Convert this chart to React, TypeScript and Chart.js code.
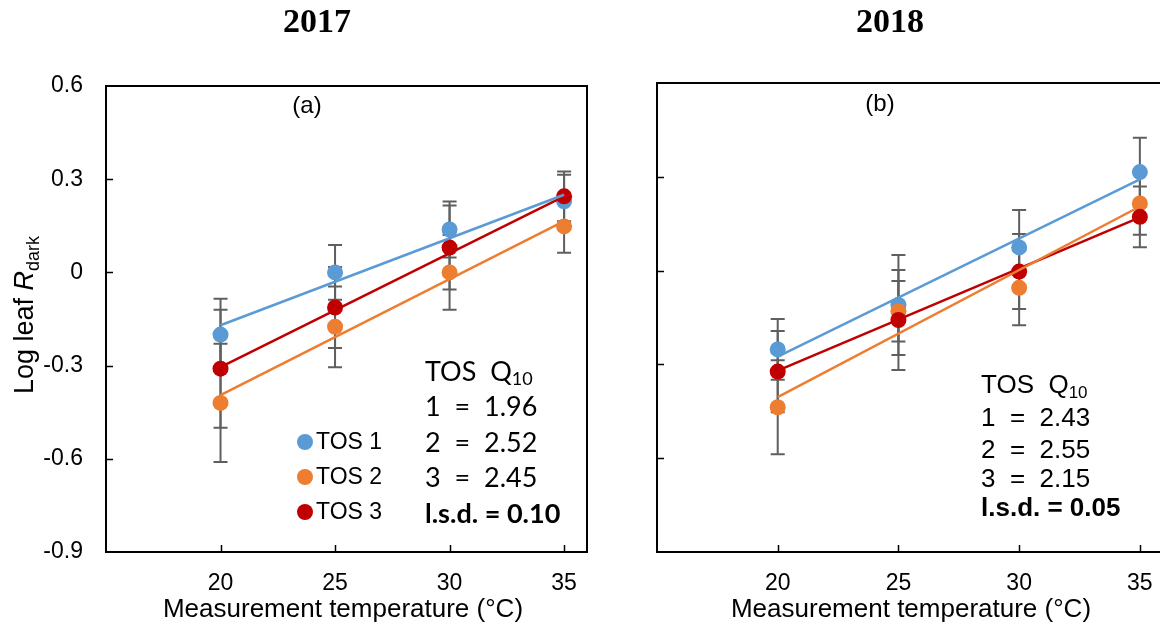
import React, { useEffect, useRef } from "react";
import { Chart, registerables } from "chart.js";
Chart.register(...registerables);

// ---------- data ----------
const temperatures = [20, 25, 30, 35];
const xTickValues = [20, 25, 30, 35];
const yTickValues = [-0.9, -0.6, -0.3, 0, 0.3, 0.6];
const seriesNames = ["TOS 1", "TOS 2", "TOS 3"];
const seriesColors = ["#5B9BD5", "#ED7D31", "#C00000"];
const trendX = [20, 35];

// 2017
const tos1_2017 = [-0.2, 0.0, 0.138, 0.229];
const tos2_2017 = [-0.42, -0.175, 0.0, 0.148];
const tos3_2017 = [-0.31, -0.113, 0.08, 0.245];
const err1_2017 = [0.115, 0.088, 0.09, 0.085];
const err2_2017 = [0.19, 0.13, 0.12, 0.085];
const err3_2017 = [0.19, 0.13, 0.135, 0.08];
const trend1_2017 = [-0.17, 0.25];
const trend2_2017 = [-0.395, 0.165];
const trend3_2017 = [-0.305, 0.245];
const q10Rows2017 = ["1  =  1.96", "2  =  2.52", "3  =  2.45"];
const lsd2017 = "l.s.d. = 0.10";

// 2018
const tos1_2018 = [-0.252, -0.11, 0.074, 0.315];
const tos2_2018 = [-0.437, -0.13, -0.055, 0.215];
const tos3_2018 = [-0.323, -0.158, -0.003, 0.172];
const err1_2018 = [0.097, 0.16, 0.12, 0.11];
const err2_2018 = [0.15, 0.097, 0.12, 0.1];
const err3_2018 = [0.13, 0.16, 0.12, 0.097];
const trend1_2018 = [-0.275, 0.292];
const trend2_2018 = [-0.405, 0.205];
const trend3_2018 = [-0.32, 0.17];
const q10Rows2018 = ["1  =  2.43", "2  =  2.55", "3  =  2.15"];
const lsd2018 = "l.s.d. = 0.05";

const SANS = "'Liberation Sans', Arial, sans-serif";
const SERIF = "'Liberation Serif', 'Times New Roman', serif";
const CALIBRI = "Lato, 'Liberation Sans', sans-serif";

type PanelCfg = {
  canvasLeft: number;
  canvasWidth: number;
  yAxisWidth: number;
  padTop: number;
  padRight: number;
  xAxisHeight: number;
  showYLabels: boolean;
  series: number[][];
  errors: number[][];
  trends: number[][];
  year: string;
  yearX: number;
  panelLabel: string;
  panelLabelX: number;
  panelLabelY: number;
  xTitleX: number;
  showYTitle: boolean;
  showLegend: boolean;
  annX: number;
  annRows: number[];
  annFont: string;
  annSize: number;
  q10: string[];
  lsd: string;
};

const panels: PanelCfg[] = [
  {
    canvasLeft: 0,
    canvasWidth: 620,
    yAxisWidth: 106,
    padTop: 86,
    padRight: 33,
    xAxisHeight: 82,
    showYLabels: true,
    series: [tos1_2017, tos2_2017, tos3_2017],
    errors: [err1_2017, err2_2017, err3_2017],
    trends: [trend1_2017, trend2_2017, trend3_2017],
    year: "2017",
    yearX: 317,
    panelLabel: "(a)",
    panelLabelX: 307,
    panelLabelY: 106,
    xTitleX: 343,
    showYTitle: true,
    showLegend: true,
    annX: 425,
    annRows: [372, 407, 443, 478, 514],
    annFont: CALIBRI,
    annSize: 27,
    q10: q10Rows2017,
    lsd: lsd2017,
  },
  {
    canvasLeft: 620,
    canvasWidth: 560,
    yAxisWidth: 37,
    padTop: 83,
    padRight: 16,
    xAxisHeight: 82,
    showYLabels: false,
    series: [tos1_2018, tos2_2018, tos3_2018],
    errors: [err1_2018, err2_2018, err3_2018],
    trends: [trend1_2018, trend2_2018, trend3_2018],
    year: "2018",
    yearX: 890,
    panelLabel: "(b)",
    panelLabelX: 880,
    panelLabelY: 104,
    xTitleX: 911,
    showYTitle: false,
    showLegend: false,
    annX: 981,
    annRows: [386, 419, 451, 480, 509],
    annFont: SANS,
    annSize: 26,
    q10: q10Rows2018,
    lsd: lsd2018,
  },
];

function makePlugin(cfg: PanelCfg) {
  const ox = cfg.canvasLeft;
  return {
    id: "panelDeco",
    beforeDatasetsDraw(chart: any) {
      const ctx = chart.ctx;
      const xs = chart.scales.x;
      const ys = chart.scales.y;
      ctx.save();
      ctx.strokeStyle = "#5f5f5f";
      ctx.lineWidth = 2;
      cfg.series.forEach((vals, s) => {
        vals.forEach((v, i) => {
          const e = cfg.errors[s][i];
          const px = xs.getPixelForValue(temperatures[i]);
          const pt = ys.getPixelForValue(v + e);
          const pb = ys.getPixelForValue(v - e);
          ctx.beginPath();
          ctx.moveTo(px, pt);
          ctx.lineTo(px, pb);
          ctx.moveTo(px - 7, pt);
          ctx.lineTo(px + 7, pt);
          ctx.moveTo(px - 7, pb);
          ctx.lineTo(px + 7, pb);
          ctx.stroke();
        });
      });
      ctx.restore();
    },
    afterDraw(chart: any) {
      const ctx = chart.ctx;
      const a = chart.chartArea;
      const xs = chart.scales.x;
      const ys = chart.scales.y;
      ctx.save();
      // frame
      ctx.strokeStyle = "#000";
      ctx.lineWidth = 2;
      ctx.strokeRect(a.left, a.top, a.right - a.left, a.bottom - a.top);
      // inner ticks
      ctx.lineWidth = 1.5;
      ctx.beginPath();
      yTickValues.slice(1, -1).forEach((v) => {
        const py = Math.round(ys.getPixelForValue(v)) + 0.5;
        ctx.moveTo(a.left, py);
        ctx.lineTo(a.left + 7, py);
      });
      xTickValues.forEach((v) => {
        const px = Math.round(xs.getPixelForValue(v)) + 0.5;
        ctx.moveTo(px, a.bottom);
        ctx.lineTo(px, a.bottom - 7);
      });
      ctx.stroke();

      ctx.fillStyle = "#000";
      // year title
      ctx.font = `bold 34px ${SERIF}`;
      ctx.textAlign = "center";
      ctx.textBaseline = "middle";
      ctx.fillText(cfg.year, cfg.yearX - ox, 23);
      // panel label
      ctx.font = `24px ${SANS}`;
      ctx.fillText(cfg.panelLabel, cfg.panelLabelX - ox, cfg.panelLabelY);
      // x title
      ctx.font = `26px ${SANS}`;
      ctx.fillText("Measurement temperature (\u00B0C)", cfg.xTitleX - ox, 610);

      // y title
      if (cfg.showYTitle) {
        ctx.save();
        ctx.translate(24 - ox, 315);
        ctx.rotate(-Math.PI / 2);
        const p1 = "Log leaf ";
        const p2 = "R";
        const p3 = "dark";
        ctx.font = `27px ${SANS}`;
        const w1 = ctx.measureText(p1).width;
        ctx.font = `italic 27px ${SANS}`;
        const w2 = ctx.measureText(p2).width;
        ctx.font = `18px ${SANS}`;
        const w3 = ctx.measureText(p3).width;
        let x0 = -(w1 + w2 + w3) / 2;
        ctx.textAlign = "left";
        ctx.textBaseline = "alphabetic";
        ctx.font = `27px ${SANS}`;
        ctx.fillText(p1, x0, 9);
        x0 += w1;
        ctx.font = `italic 27px ${SANS}`;
        ctx.fillText(p2, x0, 9);
        x0 += w2;
        ctx.font = `18px ${SANS}`;
        ctx.fillText(p3, x0, 15);
        ctx.restore();
      }

      // legend
      if (cfg.showLegend) {
        const ly = [442, 477, 512];
        seriesNames.forEach((name, i) => {
          ctx.fillStyle = seriesColors[i];
          ctx.beginPath();
          ctx.arc(305 - ox, ly[i], 8, 0, Math.PI * 2);
          ctx.fill();
          ctx.fillStyle = "#000";
          ctx.font = `23px ${SANS}`;
          ctx.textAlign = "left";
          ctx.textBaseline = "middle";
          ctx.fillText(name, 316 - ox, ly[i] + 1);
        });
      }

      // Q10 annotation
      const ax = cfg.annX - ox;
      const sz = cfg.annSize;
      ctx.fillStyle = "#000";
      ctx.textAlign = "left";
      ctx.textBaseline = "middle";
      ctx.font = `${sz}px ${cfg.annFont}`;
      const head = "TOS  Q";
      ctx.fillText(head, ax, cfg.annRows[0]);
      const hw = ctx.measureText(head).width;
      ctx.font = `${Math.round(sz * 0.65)}px ${cfg.annFont}`;
      ctx.fillText("10", ax + hw, cfg.annRows[0] + sz * 0.28);
      ctx.font = `${sz}px ${cfg.annFont}`;
      cfg.q10.forEach((row, i) => {
        ctx.fillText(row, ax, cfg.annRows[i + 1]);
      });
      ctx.font = `bold ${sz}px ${cfg.annFont}`;
      ctx.fillText(cfg.lsd, ax, cfg.annRows[4]);
      ctx.restore();
    },
  };
}

function Panel({ cfg }: { cfg: PanelCfg }) {
  const ref = useRef<HTMLCanvasElement | null>(null);
  useEffect(() => {
    if (!ref.current) return;
    const datasets: any[] = [];
    cfg.trends.forEach((t, s) => {
      datasets.push({
        label: seriesNames[s] + " trend",
        data: trendX.map((x, i) => ({ x, y: t[i] })),
        showLine: true,
        borderColor: seriesColors[s],
        borderWidth: 2.5,
        pointRadius: 0,
        order: 0,
      });
    });
    cfg.series.forEach((vals, s) => {
      datasets.push({
        label: seriesNames[s],
        data: temperatures.map((x, i) => ({ x, y: vals[i] })),
        showLine: false,
        pointRadius: 8,
        pointBackgroundColor: seriesColors[s],
        pointBorderWidth: 0,
        borderColor: seriesColors[s],
        order: 3 - s,
      });
    });
    const chart = new Chart(ref.current, {
      type: "scatter",
      data: { datasets },
      options: {
        responsive: false,
        animation: false,
        devicePixelRatio: 1,
        layout: {
          padding: { top: cfg.padTop, right: cfg.padRight, left: 0, bottom: 0 },
        },
        plugins: {
          legend: { display: false },
          tooltip: { enabled: false },
          title: { display: false },
        },
        scales: {
          x: {
            type: "linear",
            min: 15,
            max: 36,
            afterBuildTicks: (s: any) => {
              s.ticks = xTickValues.map((v) => ({ value: v }));
            },
            afterFit: (s: any) => {
              s.height = cfg.xAxisHeight;
            },
            grid: { display: false, drawTicks: false },
            border: { display: false },
            ticks: {
              padding: 18,
              color: "#000",
              font: { family: SANS, size: 23 },
              maxRotation: 0,
              autoSkip: false,
              callback: (v: any) => String(v),
            },
          },
          y: {
            type: "linear",
            min: -0.9,
            max: 0.6,
            afterBuildTicks: (s: any) => {
              s.ticks = yTickValues.map((v) => ({ value: v }));
            },
            afterFit: (s: any) => {
              s.width = cfg.yAxisWidth;
            },
            grid: { display: false, drawTicks: false },
            border: { display: false },
            ticks: {
              display: cfg.showYLabels,
              padding: 23,
              color: "#000",
              font: { family: SANS, size: 23 },
              callback: (v: any) => String(v),
            },
          },
        },
      },
      plugins: [makePlugin(cfg)],
    } as any);
    return () => chart.destroy();
  }, [cfg]);
  return (
    <canvas
      ref={ref}
      width={cfg.canvasWidth}
      height={634}
      style={{ position: "absolute", left: cfg.canvasLeft, top: 0, width: cfg.canvasWidth, height: 634 }}
    />
  );
}

export default function App() {
  return (
    <div
      style={{
        position: "fixed",
        left: 0,
        top: 0,
        width: 1160,
        height: 634,
        overflow: "hidden",
        background: "#fff",
      }}
    >
      {panels.map((p, i) => (
        <Panel key={i} cfg={p} />
      ))}
    </div>
  );
}
